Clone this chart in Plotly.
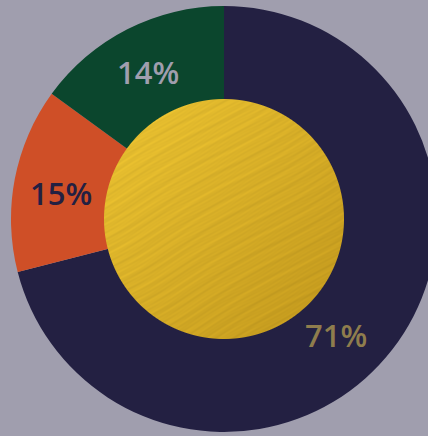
import base64, struct, zlib
import numpy as np
import plotly.graph_objects as go

# ---- data ----
labels = ["Navy", "Orange", "Green"]
values = [71, 14, 15]
label_texts = ["71%", "15%", "14%"]
slice_colors = ["#232042", "#cf4f27", "#0b462d"]
text_colors = ["#8f7d4d", "#232042", "#a09eae"]

W, H = 448, 436
BG = "#a09eae"
# label centre positions in pixels (layout, not data)
label_px = [(335.5, 334.5), (61, 193), (147.5, 72.5)]


def make_png(size=240):
    yy, xx = np.mgrid[0:size, 0:size].astype(float)
    c = (size - 1) / 2.0
    r = np.sqrt((xx - c) ** 2 + (yy - c) ** 2)
    alpha = np.clip(size / 2.0 - r + 0.5, 0, 1)
    t = (xx + yy) / (2 * size)
    base = np.array([236, 196, 50]) * (1 - t)[..., None] + np.array([192, 150, 28]) * t[..., None]
    u = xx * 0.5 + yy * 0.866
    v = xx * 0.866 - yy * 0.5
    streak = (0.45 * np.sin(u * 1.13 + 2.3 * np.sin(v * 0.043))
              + 0.35 * np.sin(u * 0.71 + 1.7 * np.sin(v * 0.027 + 1.0))
              + 0.25 * np.sin(u * 2.07 + 3.1 * np.sin(v * 0.061 + 2.0))
              + 0.20 * np.sin(u * 0.29 + 0.9 * np.sin(v * 0.019 + 0.5)))
    base = base * (1 + 0.035 * streak)[..., None]
    rgb = np.clip(base, 0, 255).astype(np.uint8)
    a = (alpha * 255).astype(np.uint8)
    img = np.dstack([rgb, a])
    raw = b"".join(b"\x00" + img[i].tobytes() for i in range(size))

    def chunk(tag, data):
        return struct.pack(">I", len(data)) + tag + data + struct.pack(">I", zlib.crc32(tag + data) & 0xffffffff)

    png = b"\x89PNG\r\n\x1a\n" + chunk(b"IHDR", struct.pack(">IIBBBBB", size, size, 8, 6, 0, 0, 0)) \
        + chunk(b"IDAT", zlib.compress(raw, 9)) + chunk(b"IEND", b"")
    return "data:image/png;base64," + base64.b64encode(png).decode()


fig = go.Figure(go.Pie(
    labels=labels,
    values=values,
    sort=False,
    direction="clockwise",
    rotation=0,
    hole=0.56,
    marker=dict(colors=slice_colors, line=dict(width=0)),
    textinfo="none",
    domain=dict(x=[0, 1], y=[4 / H, 430 / H]),
    showlegend=False,
    hoverinfo="label",
))

for txt, col, (px, py) in zip(label_texts, text_colors, label_px):
    fig.add_annotation(
        text=txt, x=px / W, y=(H - py) / H, xref="paper", yref="paper",
        xanchor="center", yanchor="middle", showarrow=False,
        font=dict(family="Open Sans", size=31, color=col, weight=600),
    )

cx, cy, R = 224, 219, 120
fig.add_layout_image(dict(
    source=make_png(240),
    xref="paper", yref="paper",
    x=(cx - R) / W, y=(H - (cy - R)) / H,
    sizex=2 * R / W, sizey=2 * R / H,
    xanchor="left", yanchor="top",
    sizing="stretch", layer="above",
))

fig.update_layout(
    width=W, height=H,
    margin=dict(l=0, r=0, t=0, b=0),
    paper_bgcolor=BG, plot_bgcolor=BG,
)

fig.write_html(
    "out.html",
    config={"displayModeBar": False},
    post_script="document.body.style.margin='0';document.body.style.overflow='hidden';document.documentElement.style.overflow='hidden';",
)
